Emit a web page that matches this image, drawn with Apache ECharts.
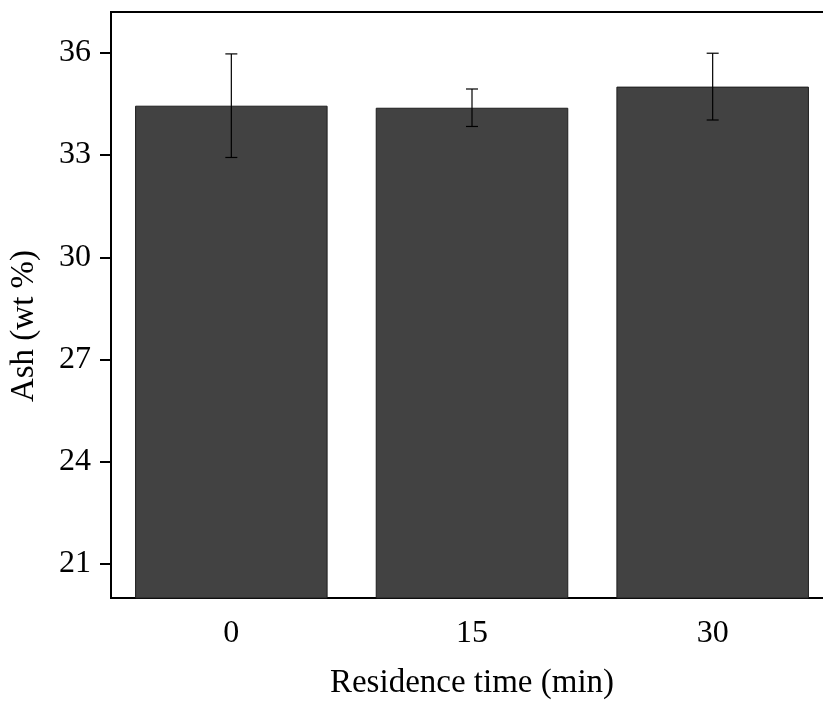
<!DOCTYPE html>
<html>
<head>
<meta charset="utf-8">
<script src="https://cdn.jsdelivr.net/npm/echarts@6/dist/echarts.min.js"></script>
<style>
html,body{margin:0;padding:0;background:#fff;}
#chart{width:823px;height:704px;}
</style>
</head>
<body>
<div id="chart"></div>
<script>
var categories = ['0', '15', '30'];
var ashValues = [34.45, 34.39, 35.01];
var ashErrors = [1.52, 0.55, 0.98];
var yTicks = [21, 24, 27, 30, 33, 36];

var errData = categories.map(function (c, i) {
  return [i, ashValues[i] - ashErrors[i], ashValues[i] + ashErrors[i]];
});

var font = 'Liberation Serif, Times New Roman, serif';
var chart = echarts.init(document.getElementById('chart'), null, {renderer: 'canvas'});
chart.setOption({
  animation: false,
  backgroundColor: '#ffffff',
  grid: {
    left: 111, top: 12, width: 722, height: 586,
    outerBoundsMode: 'none',
    containLabel: false,
    show: true, borderColor: '#000', borderWidth: 2, backgroundColor: 'transparent'
  },
  xAxis: {
    type: 'category',
    data: categories,
    name: 'Residence time (min)',
    nameLocation: 'middle',
    nameGap: 69,
    nameTextStyle: {fontFamily: font, fontSize: 33, color: '#000'},
    axisLine: {lineStyle: {color: '#000', width: 2}},
    axisTick: {alignWithLabel: true, length: 11, lineStyle: {color: '#000', width: 2}},
    axisLabel: {fontFamily: font, fontSize: 32, color: '#000', margin: 20},
    splitLine: {show: false}
  },
  yAxis: {
    type: 'value',
    min: 20,
    max: 37.2,
    name: 'Ash (wt %)',
    nameLocation: 'middle',
    nameGap: 70,
    nameTextStyle: {fontFamily: font, fontSize: 33, color: '#000', padding: [0, 42, 0, 0]},
    axisLine: {show: true, lineStyle: {color: '#000', width: 2}},
    axisTick: {show: true, length: 11, customValues: yTicks, lineStyle: {color: '#000', width: 2}},
    axisLabel: {fontFamily: font, fontSize: 32, color: '#000', margin: 20, customValues: yTicks},
    splitLine: {show: false}
  },
  series: [
    {
      type: 'bar',
      data: ashValues,
      barCategoryGap: '20%',
      itemStyle: {color: '#424242', borderColor: '#1e1e1e', borderWidth: 1}
    },
    {
      type: 'custom',
      data: errData,
      z: 10,
      renderItem: function (params, api) {
        var x = api.value(0);
        var lo = api.coord([x, api.value(1)]);
        var hi = api.coord([x, api.value(2)]);
        var hw = 6;
        var style = {stroke: '#000', lineWidth: 1.2};
        return {
          type: 'group',
          children: [
            {type: 'line', shape: {x1: hi[0], y1: hi[1], x2: lo[0], y2: lo[1]}, style: style},
            {type: 'line', shape: {x1: hi[0] - hw, y1: hi[1], x2: hi[0] + hw, y2: hi[1]}, style: style},
            {type: 'line', shape: {x1: lo[0] - hw, y1: lo[1], x2: lo[0] + hw, y2: lo[1]}, style: style}
          ]
        };
      }
    }
  ]
});
</script>
</body>
</html>
